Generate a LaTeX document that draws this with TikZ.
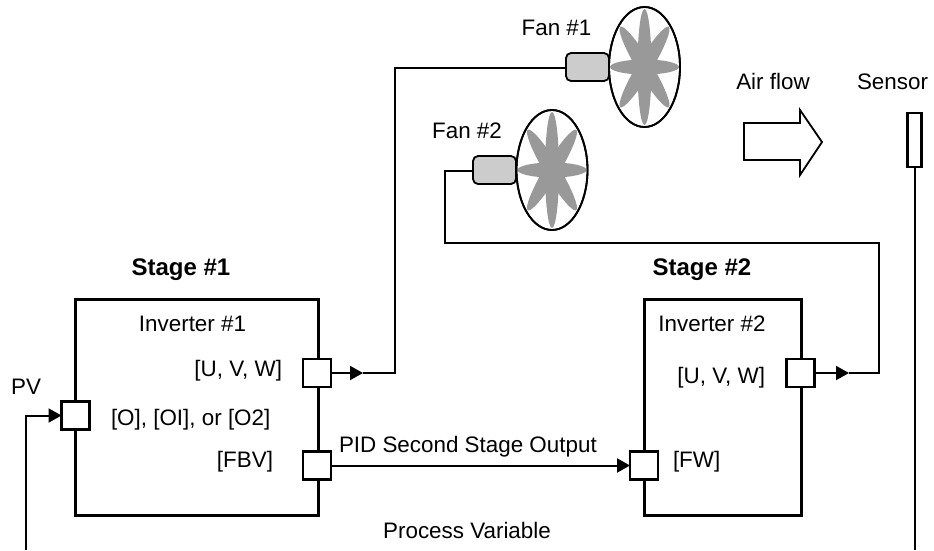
\documentclass[tikz,border=0pt]{standalone}
\usepackage{fontspec}
\setmainfont{Liberation Sans}
\usetikzlibrary{arrows.meta,shapes.geometric}
\tikzset{
  txt/.style={inner sep=0pt,outer sep=0pt,font=\fontsize{22.4}{26}\selectfont,anchor=base},
  txtb/.style={txt,font=\fontsize{24}{28}\selectfont\bfseries},
  invbox/.style={draw,line width=3pt,inner sep=0pt,outer sep=0pt,fill=white},
  port/.style={draw,line width=2.1pt,fill=white,inner sep=0pt,outer sep=0pt,minimum width=28pt,minimum height=28pt},
  motor/.style={draw,line width=1.8pt,fill=black!20,rounded corners=5pt,inner sep=0pt,outer sep=0pt,minimum width=43pt,minimum height=28pt},
  fanring/.style={draw,line width=1.8pt,ellipse,fill=white,inner sep=0pt,outer sep=0pt,minimum width=71pt,minimum height=120pt},
  wire/.style={line width=2pt},
  tipwire/.style={wire,-{Triangle[length=13pt,width=14pt]}},
  petal/.style={fill=black!40,draw=none},
}
\newcommand{\fanpetals}[2]{%
  \begin{scope}[shift={(#1,#2)}]
    \fill[petal] (0,0) ellipse [x radius=7pt,y radius=58pt];
    \fill[petal] (0,0) ellipse [x radius=34.5pt,y radius=7.5pt];
    \fill[petal,rotate=31] (0,0) ellipse [x radius=7.5pt,y radius=47pt];
    \fill[petal,rotate=-31] (0,0) ellipse [x radius=7.5pt,y radius=47pt];
  \end{scope}}
\begin{document}
\begin{tikzpicture}[x=1pt,y=-1pt]
\useasboundingbox (0,0) rectangle (934,550);
% Inverter boxes
\node[invbox,minimum width=243pt,minimum height=216pt] (inv1) at (196.5,407) {};
\node[invbox,minimum width=157pt,minimum height=216pt] (inv2) at (722.5,407) {};
% Ports
\node[port] (pv) at (75.5,415.5) {};
\node[port] (uvw1) at (317,373) {};
\node[port] (fbv) at (317,465.5) {};
\node[port] (uvw2) at (800.5,373) {};
\node[port] (fw) at (644,465.5) {};
% Fans
\node[fanring] (ring1) at (644.5,67) {};
\fanpetals{644.5}{67}
\node[fanring,fill=none] at (644.5,67) {};
\node[motor] (mot1) at (587.5,67) {};
\node[fanring] (ring2) at (552,170) {};
\fanpetals{552}{170}
\node[fanring,fill=none] at (552,170) {};
\node[motor] (mot2) at (494.5,170) {};
% Sensor
\node[draw,line width=2.5pt,fill=white,inner sep=0pt,outer sep=0pt,minimum width=14pt,minimum height=54pt] (sens) at (914.5,140) {};
% Air-flow arrow
\draw[line width=1.8pt,fill=white,line join=miter] (744,123) -- (800,123) -- (800,110) -- (822,142) -- (800,175) -- (800,160) -- (744,160) -- cycle;
% Connectors
\coordinate (t1) at (363,373);
\coordinate (k1) at (395,373);
\coordinate (k2) at (395,68);
\draw[tipwire] (uvw1.east) -- (t1);
\draw[wire,line join=miter] (t1) -- (k1) -- (k2) -- (mot1.west |- k2);
\coordinate (t2) at (849,373);
\coordinate (k3) at (879,373);
\coordinate (k4) at (879,243);
\coordinate (k5) at (445,243);
\coordinate (k6) at (445,171);
\draw[tipwire] (uvw2.east) -- (t2);
\draw[wire,line join=miter] (t2) -- (k3) -- (k4) -- (k5) -- (k6) -- (mot2.west |- k6);
\draw[tipwire] (fbv.east) -- (fw.west);
\coordinate (pvs) at (26,550);
\coordinate (pvk) at (26,415.5);
\draw[tipwire,line join=miter] (pvs) -- (pvk) -- (pv.west);
\coordinate (sb) at (914.5,550);
\draw[wire] (sens.south) -- (sb);
% Labels
\node[txt] (lf1) at (556.5,35) {Fan \#1};
\node[txt] (lf2) at (467,138) {Fan \#2};
\node[txt] (laf) at (773,89) {Air flow};
\node[txt] (lse) at (892.5,89) {Sensor};
\node[txtb] (ls1) at (181,275) {Stage \#1};
\node[txtb] (ls2) at (702,275) {Stage \#2};
\node[txt] (li1) at (192.5,331) {Inverter \#1};
\node[txt] (li2) at (712,331) {Inverter \#2};
\node[txt,anchor=base east] (lu1) at (282,376) {[U, V, W]};
\node[txt,anchor=base east] (lu2) at (765,383) {[U, V, W]};
\node[txt,anchor=base west] (lo) at (111,425) {[O], [OI], or [O2]};
\node[txt,anchor=base east] (lfb) at (273,467) {[FBV]};
\node[txt,anchor=base west] (lfw) at (673,467) {[FW]};
\node[txt,anchor=base west] (lpid) at (339,452) {PID Second Stage Output};
\node[txt] (lpv) at (26,394) {PV};
\node[txt] (lp) at (467,538) {Process Variable};
\end{tikzpicture}
\end{document}
